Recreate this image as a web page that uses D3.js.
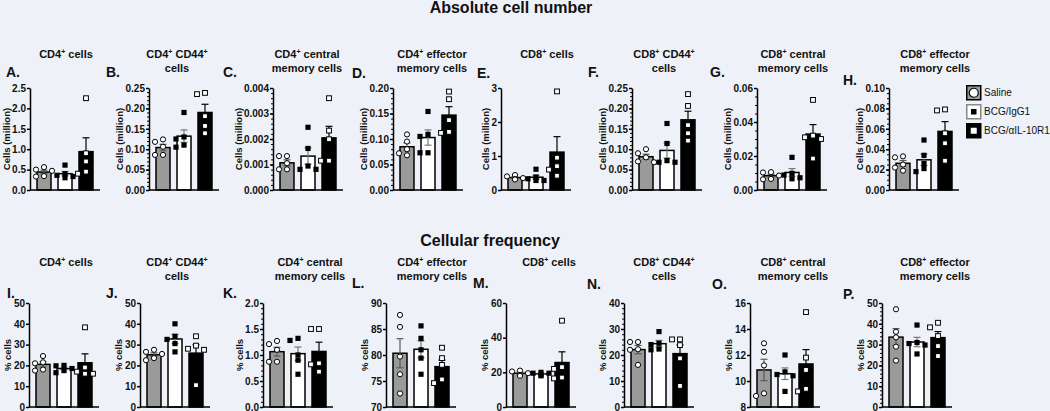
<!DOCTYPE html>
<html><head><meta charset="utf-8">
<script src="https://cdn.jsdelivr.net/npm/d3@7"></script>
<style>
html,body{margin:0;padding:0;background:#eef2f8;}
svg{display:block;font-family:"Liberation Sans",Arial,sans-serif;}
</style></head><body>
<svg id="c" width="1050" height="411"></svg>
<script>
const groups = ["Saline", "BCG/IgG1", "BCG/αIL-10R1"];

// ---- Absolute cell number (panels A–H) ----
const absLetters = ["A.", "B.", "C.", "D.", "E.", "F.", "G.", "H."];
const absTitles = [["CD4⁺ cells"], ["CD4⁺ CD44⁺", "cells"], ["CD4⁺ central", "memory cells"], ["CD4⁺ effector", "memory cells"],
                   ["CD8⁺ cells"], ["CD8⁺ CD44⁺", "cells"], ["CD8⁺ central", "memory cells"], ["CD8⁺ effector", "memory cells"]];
const absDomains = [[0, 2.5], [0, 0.25], [0, 0.004], [0, 0.2], [0, 3], [0, 0.25], [0, 0.06], [0, 0.1]];
const absTicks = [[0, 0.5, 1, 1.5, 2, 2.5], [0, 0.05, 0.1, 0.15, 0.2, 0.25], [0, 0.001, 0.002, 0.003, 0.004],
                  [0, 0.05, 0.1, 0.15, 0.2], [0, 1, 2, 3], [0, 0.05, 0.1, 0.15, 0.2, 0.25], [0, 0.02, 0.04, 0.06],
                  [0, 0.02, 0.04, 0.06, 0.08, 0.1]];
const absTickLabels = [["0.0", "0.5", "1.0", "1.5", "2.0", "2.5"], ["0.00", "0.05", "0.10", "0.15", "0.20", "0.25"],
                       ["0.000", "0.001", "0.002", "0.003", "0.004"], ["0.00", "0.05", "0.10", "0.15", "0.20"],
                       ["0", "1", "2", "3"], ["0.00", "0.05", "0.10", "0.15", "0.20", "0.25"],
                       ["0.00", "0.02", "0.04", "0.06"], ["0.00", "0.02", "0.04", "0.06", "0.08", "0.10"]];
const absMinor = [0, 5, 5, 5, 0, 5, 4, 4];
const absSaline = [[0.56, 0.50, 0.47, 0.34, 0.33], [0.124, 0.118, 0.106, 0.086, 0.086], [0.00133, 0.00133, 0.00105, 0.00081, 0.00081],
                   [0.109, 0.095, 0.080, 0.072, 0.068], [0.44, 0.40, 0.35, 0.32, 0.31], [0.100, 0.090, 0.080, 0.070, 0.068],
                   [0.0105, 0.0103, 0.0085, 0.0065, 0.0063], [0.033, 0.032, 0.025, 0.022, 0.019]];
const absIgG1 = [[0.61, 0.40, 0.36, 0.33, 0.30], [0.190, 0.130, 0.125, 0.110, 0.105], [0.00246, 0.00163, 0.00094, 0.00081, 0.00081],
                 [0.154, 0.109, 0.105, 0.073, 0.073], [0.61, 0.38, 0.33, 0.28, 0.28], [0.163, 0.114, 0.072, 0.068, 0.068],
                 [0.0192, 0.0098, 0.0088, 0.0072, 0.0066], [0.049, 0.034, 0.026, 0.021, 0.018]];
const absAntiIL10R1 = [[2.25, 0.90, 0.70, 0.45, 0.40], [0.238, 0.235, 0.181, 0.157, 0.139], [0.0036, 0.00233, 0.00199, 0.00115, 0.00115],
                       [0.193, 0.178, 0.137, 0.114, 0.112], [2.90, 0.95, 0.70, 0.60, 0.42], [0.235, 0.206, 0.159, 0.139, 0.121],
                       [0.053, 0.032, 0.031, 0.030, 0.0185], [0.079, 0.078, 0.0556, 0.0458, 0.0287]];

// ---- Cellular frequency (panels I–P) ----
const freqLetters = ["I.", "J.", "K.", "L.", "M.", "N.", "O.", "P."];
const freqTitles = absTitles;
const freqDomains = [[0, 50], [0, 50], [0, 2], [70, 90], [0, 60], [0, 40], [8, 16], [0, 50]];
const freqTicks = [[0, 10, 20, 30, 40, 50], [0, 10, 20, 30, 40, 50], [0, 0.5, 1, 1.5, 2], [70, 75, 80, 85, 90],
                   [0, 20, 40, 60], [0, 10, 20, 30, 40], [8, 10, 12, 14, 16], [0, 10, 20, 30, 40, 50]];
const freqTickLabels = [["0", "10", "20", "30", "40", "50"], ["0", "10", "20", "30", "40", "50"], ["0.0", "0.5", "1.0", "1.5", "2.0"],
                        ["70", "75", "80", "85", "90"], ["0", "20", "40", "60"], ["0", "10", "20", "30", "40"],
                        ["8", "10", "12", "14", "16"], ["0", "10", "20", "30", "40", "50"]];
const freqMinor = [0, 0, 5, 0, 0, 5, 0, 5];
const freqSaline = [[24.5, 21.5, 21, 18, 17.5], [27.5, 26.5, 25.5, 23.5, 22.5], [1.27, 1.21, 1.10, 0.87, 0.87],
                    [87.7, 85.4, 79.7, 76.3, 72.6], [21, 20.5, 19.5, 18.5, 18], [25, 25, 22.2, 22, 16.2],
                    [12.9, 12.25, 11.2, 9.05, 8.85], [47, 36.2, 33.5, 29, 22.3]];
const freqIgG1 = [[20, 19.8, 18.5, 17.5, 16.5], [40, 34, 32.5, 30.5, 26.5], [1.32, 1.28, 1.00, 0.90, 0.63],
                  [85.6, 83.2, 81, 79.4, 76.3], [20, 19.5, 19.5, 18.5, 18], [29, 24.5, 24, 22.3, 22],
                  [12.0, 10.7, 10.5, 10.4, 9.2], [39.4, 31, 30.5, 29.8, 25.5]];
const freqAntiIL10R1 = [[38.3, 19, 17, 16, 16], [34, 29.5, 28, 27.5, 10.5], [1.5, 1.5, 0.84, 0.82, 0.68],
                        [81.4, 79.4, 78.1, 75.3, 74.6], [49.8, 23, 22, 17, 16.5], [26, 26, 23.8, 18.7, 8.1],
                        [15.3, 11.8, 10.85, 9.4, 9.2], [40.5, 38.3, 34.1, 29.3, 24.5]];

// ---------------- drawing ----------------
const svg = d3.select("#c");
const barFill = ["#9a9a9a", "#ffffff", "#000000"];
const errColor = ["#5a5a5a", "#777777", "#000000"];

const rows = [
  { title: "Absolute cell number", tx: 511, ty: 13, letters: absLetters, titles: absTitles, domains: absDomains,
    ticks: absTicks, tickLabels: absTickLabels, minor: absMinor, data: [absSaline, absIgG1, absAntiIL10R1],
    yLabel: "Cells (million)", yBottom: 190, yTop: 88,
    axisX: [30, 149, 273, 393, 501, 632, 757, 889],
    titleX: [66, 177, 307, 432, 547, 664, 793, 935], titleY: 58,
    letterX: [6, 106, 223, 352, 477, 588, 710, 843], letterY: [77, 77, 77, 78, 78, 77, 77, 85] },
  { title: "Cellular frequency", tx: 490, ty: 246, letters: freqLetters, titles: freqTitles, domains: freqDomains,
    ticks: freqTicks, tickLabels: freqTickLabels, minor: freqMinor, data: [freqSaline, freqIgG1, freqAntiIL10R1],
    yLabel: "% cells", yBottom: 407, yTop: 303,
    axisX: [29, 140, 263, 386, 506, 624, 750, 882],
    titleX: [66, 177, 310, 432, 549, 664, 793, 935], titleY: 266,
    letterX: [7, 106, 223, 352, 473, 587, 712, 843], letterY: [298, 298, 298, 288, 288, 289, 289, 299] }
];

function superText(sel, str) {
  const parts = str.split("⁺");
  parts.forEach((p, i) => {
    if (i > 0) {
      sel.append("tspan").attr("dy", -4).attr("font-size", 7).text("+");
      sel.append("tspan").attr("dy", 4).text(p);
    } else sel.append("tspan").text(p);
  });
}

function mean(a) { return d3.mean(a); }
function sem(a) { return d3.deviation(a) / Math.sqrt(a.length); }

rows.forEach(row => {
  svg.append("text").attr("x", row.tx).attr("y", row.ty).attr("text-anchor", "middle")
    .attr("font-size", 16).attr("font-weight", "bold").attr("fill", "#111").text(row.title);

  row.titles.forEach((lines, p) => {
    const x0 = row.axisX[p];
    const y = d3.scaleLinear().domain(row.domains[p]).range([row.yBottom, row.yTop]);
    const xb = d3.scaleBand().domain(groups).range([x0, x0 + 70]).paddingInner(1 / 3).paddingOuter(1 / 3);
    const g = svg.append("g");

    // title
    lines.forEach((ln, li) => {
      const t = g.append("text").attr("x", row.titleX[p]).attr("y", row.titleY + li * 14)
        .attr("text-anchor", "middle").attr("font-size", 11).attr("font-weight", "bold").attr("fill", "#111");
      superText(t, ln);
    });
    // letter
    g.append("text").attr("x", row.letterX[p]).attr("y", row.letterY[p]).attr("font-size", 14)
      .attr("font-weight", "bold").attr("fill", "#111").text(row.letters[p]);

    // minor ticks
    if (row.minor[p] > 0) {
      const tk = row.ticks[p];
      const step = (tk[1] - tk[0]) / row.minor[p];
      const minors = d3.range(row.domains[p][0], row.domains[p][1] + step / 2, step);
      g.append("g").attr("transform", `translate(${x0},0)`)
        .call(d3.axisLeft(y).tickValues(minors).tickSize(2).tickSizeOuter(0).tickFormat(""))
        .call(s => s.select(".domain").remove())
        .call(s => s.selectAll("line").attr("stroke", "#000").attr("stroke-width", 1));
    }
    // y axis
    const labels = row.tickLabels[p];
    const ax = g.append("g").attr("transform", `translate(${x0},0)`)
      .call(d3.axisLeft(y).tickValues(row.ticks[p]).tickSize(3).tickSizeOuter(0).tickPadding(1)
        .tickFormat((d, i) => labels[i]));
    ax.select(".domain").attr("stroke", "#000").attr("stroke-width", 1.5);
    ax.selectAll(".tick line").attr("stroke", "#000").attr("stroke-width", 1.5);
    ax.selectAll(".tick text").attr("font-size", 10).attr("font-weight", "bold").attr("fill", "#111")
      .attr("font-family", '"Liberation Sans", Arial, sans-serif');
    const maxW = d3.max(ax.selectAll(".tick text").nodes(), n => n.getBBox().width);

    // y label
    const cy = (row.yBottom + row.yTop) / 2;
    const lx = x0 - maxW - 6;
    g.append("text").attr("transform", `translate(${lx},${cy}) rotate(-90)`).attr("text-anchor", "middle")
      .attr("font-size", 9.5).attr("font-weight", "bold").attr("fill", "#111").text(row.yLabel);

    // bars
    groups.forEach((grp, gi) => {
      const vals = row.data[gi][p];
      const m = mean(vals), s = sem(vals);
      const bx = xb(grp), bw = xb.bandwidth(), cx = bx + bw / 2;
      g.append("rect").attr("x", bx).attr("y", y(m)).attr("width", bw).attr("height", row.yBottom - y(m))
        .attr("fill", barFill[gi]).attr("stroke", "#000").attr("stroke-width", 1.5);
      // error bar
      const eb = g.append("g").attr("stroke", errColor[gi]).attr("stroke-width", 1.2);
      eb.append("line").attr("x1", cx).attr("x2", cx).attr("y1", y(m - s)).attr("y2", y(m + s));
      [m - s, m + s].forEach(v => eb.append("line").attr("x1", cx - 3.5).attr("x2", cx + 3.5).attr("y1", y(v)).attr("y2", y(v)));
    });

    // points (simple non-overlapping placement)
    groups.forEach((grp, gi) => {
      const vals = row.data[gi][p].slice().sort((a, b) => b - a);
      const cx = xb(grp) + xb.bandwidth() / 2;
      const placed = [];
      const cands = [0, -4.5, 4.5, -8, 8];
      vals.forEach(v => {
        const py = y(v);
        let off = cands.find(c => placed.every(q => Math.abs(q.x - c) >= 5 || Math.abs(q.y - py) >= 5));
        if (off === undefined) off = 0;
        placed.push({ x: off, y: py });
        const px = cx + off;
        if (gi === 0) {
          g.append("circle").attr("cx", px).attr("cy", py).attr("r", 2.6)
            .attr("fill", "#fff").attr("stroke", "#000").attr("stroke-width", 1);
        } else if (gi === 1) {
          g.append("rect").attr("x", px - 2.6).attr("y", py - 2.6).attr("width", 5.2).attr("height", 5.2).attr("fill", "#000");
        } else {
          g.append("rect").attr("x", px - 2.4).attr("y", py - 2.4).attr("width", 4.8).attr("height", 4.8)
            .attr("fill", "#fff").attr("stroke", "#000").attr("stroke-width", 1);
        }
      });
    });

    // x axis line
    g.append("line").attr("x1", x0).attr("x2", x0 + 70).attr("y1", row.yBottom).attr("y2", row.yBottom)
      .attr("stroke", "#000").attr("stroke-width", 1.5);
  });
});

// legend
const lg = svg.append("g").attr("transform", "translate(966,85)");
groups.forEach((grp, gi) => {
  const yy = gi * 19;
  lg.append("rect").attr("x", 0.75).attr("y", yy + 0.75).attr("width", 14).attr("height", 14)
    .attr("fill", barFill[gi]).attr("stroke", gi === 1 ? "#888" : "#000").attr("stroke-width", 1.5);
  if (gi === 0) lg.append("circle").attr("cx", 7.75).attr("cy", yy + 7.75).attr("r", 4.5).attr("fill", "#fff").attr("stroke", "#000").attr("stroke-width", 1.2);
  if (gi === 1) lg.append("rect").attr("x", 5).attr("y", yy + 5).attr("width", 5.5).attr("height", 5.5).attr("fill", "#000");
  if (gi === 2) lg.append("rect").attr("x", 4.75).attr("y", yy + 4.75).attr("width", 6).attr("height", 6).attr("fill", "#fff");
  lg.append("text").attr("x", 18).attr("y", yy + 11).attr("font-size", 10).attr("fill", "#111").text(grp);
});
</script>
</body></html>
